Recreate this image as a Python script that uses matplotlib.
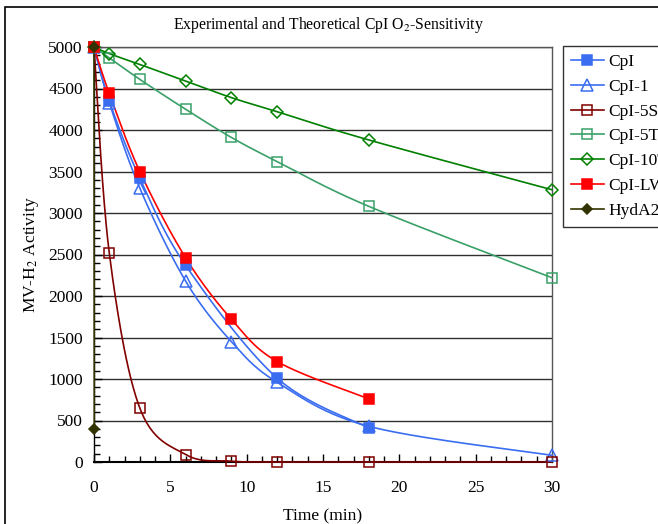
import numpy as np
import matplotlib
matplotlib.use("Agg")
import matplotlib.pyplot as plt
from matplotlib.patches import Rectangle
from matplotlib.ticker import MultipleLocator

plt.rcParams['font.family'] = ['Liberation Serif', 'DejaVu Serif']
plt.rcParams['mathtext.fontset'] = 'stix'

title = "Experimental and Theoretical CpI O$_2$-Sensitivity"
xlabel = "Time (min)"
ylabel = "MV-H$_2$ Activity"

t_cpi = [0, 1, 3, 6, 12, 18]
v_cpi = [5000, 4350, 3420, 2370, 1010, 410]
t_cpi1 = [0, 1, 3, 6, 9, 12, 18, 30]
v_cpi1 = [5000, 4330, 3300, 2180, 1450, 960, 430, 80]
t_5s = [0, 1, 3, 6, 9, 12, 18, 30]
v_5s = [5000, 2520, 650, 90, 10, 0, 0, 0]
t_5t = [0, 1, 3, 6, 9, 12, 18, 30]
v_5t = [5000, 4870, 4610, 4250, 3910, 3620, 3080, 2220]
t_10t = [0, 1, 3, 6, 9, 12, 18, 30]
v_10t = [5000, 4920, 4790, 4590, 4390, 4220, 3880, 3280]
t_lw = [0, 1, 3, 6, 9, 12, 18]
v_lw = [5000, 4440, 3500, 2460, 1720, 1210, 760]
t_hyd = [0, 0.02]
v_hyd = [5000, 400]


def smooth(x, y, n=30):
    x = np.asarray(x, float); y = np.asarray(y, float)
    if len(x) < 3:
        return x, y
    P = np.column_stack([x, y])
    ext = np.vstack([P[0], P, P[-1]])
    out = []
    for i in range(1, len(ext) - 2):
        p0, p1, p2, p3 = ext[i - 1], ext[i], ext[i + 1], ext[i + 2]
        c1 = p1 + (p2 - p0) / 6.0
        c2 = p2 - (p3 - p1) / 6.0
        s = np.linspace(0, 1, n)[:, None]
        seg = ((1 - s) ** 3) * p1 + 3 * ((1 - s) ** 2) * s * c1 + 3 * (1 - s) * s ** 2 * c2 + s ** 3 * p2
        out.append(seg if i == 1 else seg[1:])
    out = np.vstack(out)
    return out[:, 0], out[:, 1]


FS = 12.5
fig = plt.figure(figsize=(6.58, 5.24), dpi=100)
ax = fig.add_axes([94 / 658, 1 - 462 / 524, (552 - 94) / 658, (462 - 47) / 524])

series = [
    ("CpI", t_cpi, v_cpi, "#3a6df0", "s", True, 7),
    ("CpI-1", t_cpi1, v_cpi1, "#3a6df0", "^", False, 8),
    ("CpI-5S", t_5s, v_5s, "#800000", "s", False, 7),
    ("CpI-5T", t_5t, v_5t, "#3aa068", "s", False, 7),
    ("CpI-10T", t_10t, v_10t, "#008000", "D", False, 6),
    ("CpI-LW", t_lw, v_lw, "#ff0000", "s", True, 7),
    ("HydA2", t_hyd, v_hyd, "#333300", "D", True, 5),
]

for name, tx, vy, col, mk, filled, ms in series:
    sx, sy = smooth(tx, vy)
    ax.plot(sx, sy, color=col, lw=1.2, zorder=3, clip_on=False)
    ax.plot(tx, vy, ls='none', marker=mk, markersize=ms,
            markerfacecolor=col if filled else 'none', markeredgecolor=col,
            markeredgewidth=1.1, zorder=4, clip_on=False)
    ax.plot([], [], color=col, lw=1.2, marker=mk, markersize=ms,
            markerfacecolor=col if filled else 'none', markeredgecolor=col,
            markeredgewidth=1.1, label=name)

ax.set_xlim(0, 30)
ax.set_ylim(0, 5000)
ax.xaxis.set_major_locator(MultipleLocator(5))
ax.xaxis.set_minor_locator(MultipleLocator(1))
ax.yaxis.set_major_locator(MultipleLocator(500))
ax.yaxis.set_minor_locator(MultipleLocator(100))
ax.tick_params(which='both', direction='in', labelsize=FS, top=False, right=False)
ax.tick_params(which='major', length=6, width=1)
ax.tick_params(which='minor', length=4, width=1)
ax.tick_params(axis='x', pad=13)
ax.tick_params(axis='y', pad=8)
ax.grid(axis='y', which='major', color='#303030', lw=1)
ax.set_axisbelow(True)
for sp in ax.spines.values():
    sp.set_linewidth(1)
    sp.set_color('#555555')
ax.spines['left'].set_color('black')
ax.spines['bottom'].set_color('black')
ax.spines['bottom'].set_linewidth(1.5)

ax.set_xlabel(xlabel, fontsize=FS, labelpad=9)
ax.set_ylabel(ylabel, fontsize=FS, labelpad=5)
fig.text(0.5, 1 - 25 / 524, title, ha='center', va='center', fontsize=11.3)

leg = fig.legend(loc='upper left', bbox_to_anchor=(563 / 658, 1 - 46 / 524),
                 frameon=True, fancybox=False, edgecolor='black', fontsize=FS,
                 handlelength=1.9, labelspacing=0.5, borderpad=0.45, handletextpad=0.25,
                 borderaxespad=0)
leg.get_frame().set_linewidth(1)

fig.patches.append(Rectangle((5 / 658, -10 / 524), 700 / 658, 527 / 524, transform=fig.transFigure,
                             fill=False, edgecolor='black', lw=1.2))

fig.savefig("out.png", dpi=100)
